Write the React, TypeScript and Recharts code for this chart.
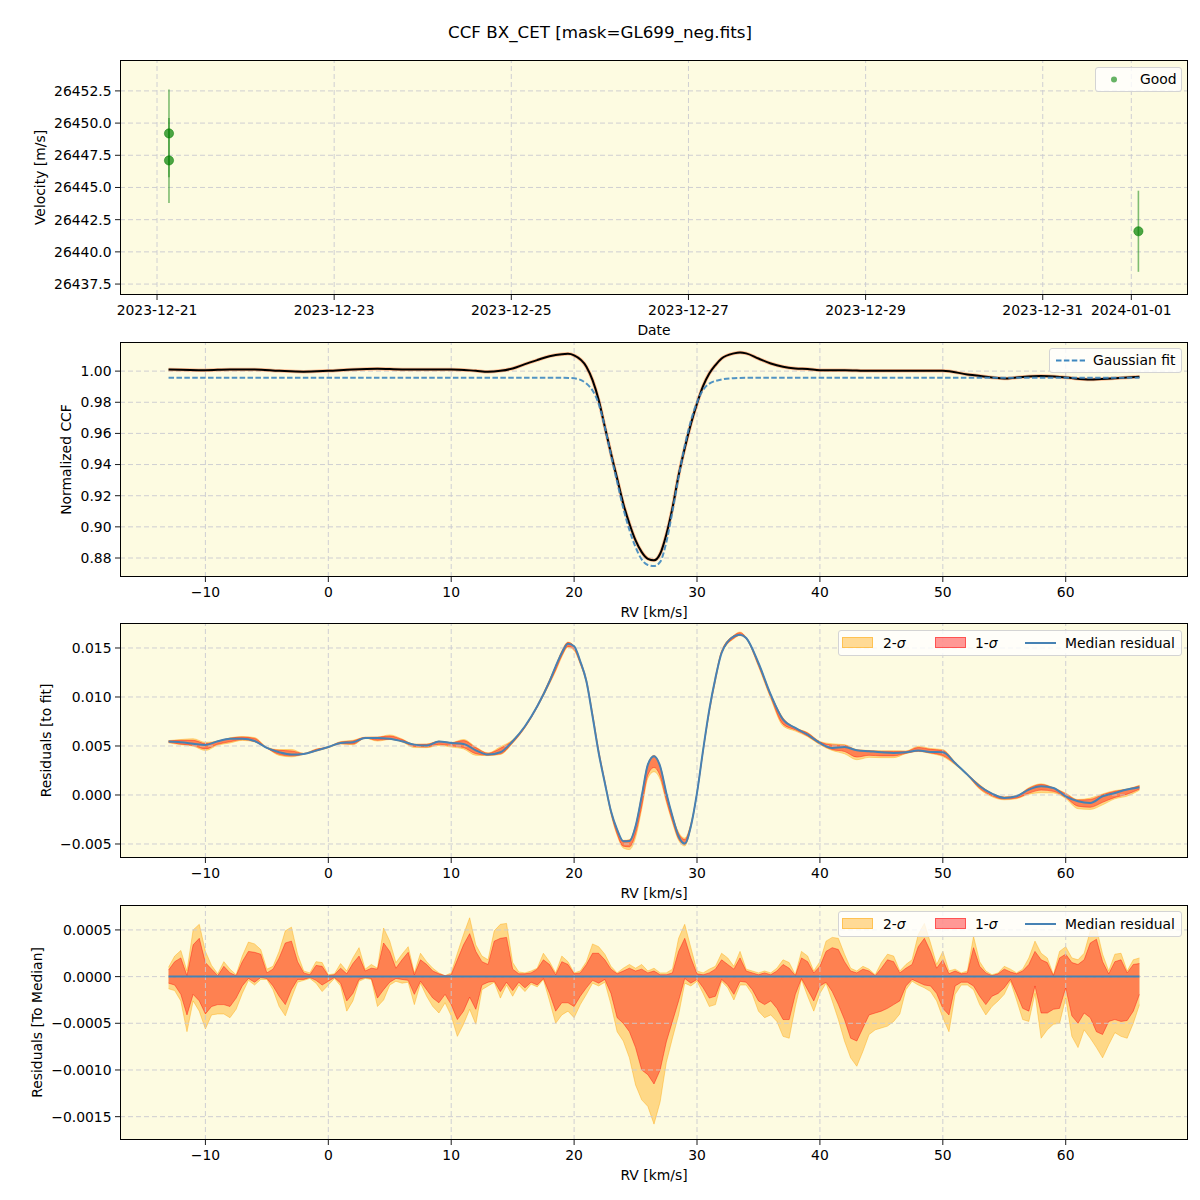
import React from 'react';
import {
  ComposedChart, Line, Area, Scatter, ErrorBar, XAxis, YAxis, CartesianGrid, ReferenceLine, Label,
} from 'recharts';

const FONT = '"DejaVu Sans", Verdana, sans-serif';
const FACE = '#fdfbe1';
const GRID = '#c9c9d0';
const MEDIAN_BLUE = '#4682b4';

// layout of the four axes boxes (px)
const PANEL_TOPS = [60, 342, 623, 905];
const MARGIN = { top: 10, right: 12, bottom: 0, left: 0 };

// ---- panel 1 : velocities, x = days after 2023-12-21 00:00
const obsDay = [0.135, 0.135, 11.08];
const obsVel = [26449.2, 26447.1, 26441.6];
const obsErr = [3.4, 3.3, 3.15];
const dateTicks = [0, 2, 4, 6, 8, 10, 11];
const dateLabels = ['2023-12-21', '2023-12-23', '2023-12-25', '2023-12-27', '2023-12-29', '2023-12-31', '2024-01-01'];
const velTicks = [26437.5, 26440, 26442.5, 26445, 26447.5, 26450, 26452.5];

// ---- panel 2 : CCF and gaussian fit
const ccfRv = [-13, -10, -8, -6, -4, -2, 0, 2, 4, 6, 8, 10, 12, 13, 14, 15, 16, 17, 18, 19,
  19.5, 20, 21, 21.5, 22, 22.5, 23, 23.5, 24, 24.5, 25, 25.5, 26, 26.5, 27, 27.5, 28, 28.5, 29, 29.5,
  30, 30.5, 31, 31.5, 32, 33, 33.5, 34, 35, 36, 37, 38, 39, 40, 42, 44, 46, 48, 50, 52,
  54, 55, 56, 58, 60, 62, 64, 66];
const ccfVal = [1.0011, 1.0006, 1.0011, 1.0011, 1.0002, 0.9996, 1.0002, 1.0011, 1.0015, 1.0011,
  1.0011, 1.0011, 1.0002, 0.9996, 1.0002, 1.0017, 1.0045, 1.0071, 1.0096, 1.0109,
  1.0111, 1.0101, 1.0028, 0.9942, 0.9814, 0.9642, 0.9471, 0.931, 0.9149, 0.902,
  0.8913, 0.8838, 0.8795, 0.8785, 0.8827, 0.895, 0.912, 0.933, 0.9505, 0.966,
  0.9792, 0.9905, 0.9985, 1.0039, 1.0081, 1.0114, 1.012, 1.0114, 1.0081, 1.0049,
  1.0028, 1.0017, 1.0013, 1.0006, 1.0006, 1.0002, 1.0002, 1.0002, 1.0002, 0.9979,
  0.9959, 0.9953, 0.9959, 0.9968, 0.9959, 0.9946, 0.9955, 0.9964];
const fitRv = [-13, 19, 20, 21, 21.5, 22, 22.5, 23, 23.5, 24, 24.5, 25, 25.5, 26, 26.5, 27, 27.5,
  28, 28.5, 29, 29.5, 30, 30.5, 31, 32, 33, 34, 66];
const fitVal = [0.9957, 0.9957, 0.9954, 0.992, 0.9875, 0.979, 0.964, 0.946, 0.929, 0.912, 0.898,
  0.887, 0.879, 0.8755, 0.8748, 0.8775, 0.89, 0.91, 0.932, 0.952, 0.968, 0.98, 0.988, 0.992,
  0.9946, 0.9955, 0.9957, 0.9957];
const ccfTicks = [0.88, 0.9, 0.92, 0.94, 0.96, 0.98, 1.0];

// ---- panel 3 : residuals to fit, values in units of 1e-4
const p3Rv = [-13, -12, -11, -10, -9, -8, -7, -6, -5, -4, -3, -2, -1, 0, 1, 2, 3, 4, 5, 6,
  7, 8, 9, 10, 11, 12, 13, 14, 15, 16, 17, 18,
  18.5, 19, 19.5, 20, 20.5, 21, 21.5, 22, 22.5, 23, 23.5, 24, 24.5, 25, 25.5, 26, 26.5, 27,
  27.5, 28, 28.5, 29, 29.5, 30, 30.5, 31, 31.5,
  32, 33, 33.5, 34,
  35, 36, 37, 38, 39, 40, 41, 42, 43, 44, 45, 46, 47, 48, 49, 50,
  51, 52, 53, 54, 55, 56, 57, 58, 59, 60, 61, 62, 63, 64, 65, 66];
const p3Med = [54.5, 53.8, 52.4, 51.0, 54.8, 57.5, 57.5, 55.1, 48.0, 43.6, 41.2, 41.9, 45.3, 49.0, 53.1, 53.8, 58.2, 58.2, 57.5, 54.8,
  51.4, 50.4, 54.5, 53.1, 52.1, 45.6, 41.2, 43.6, 54.8, 70.1, 90.5, 116.0,
  131.3, 144.9, 154.4, 151.7, 136.4, 116.0, 80.3, 42.9, 12.3, -16.6, -35.3, -47.2, -47.0, -31.9, -1.3, 31.0, 39.5, 29.3,
  2.1, -21.7, -42.1, -49.6, -31.9, 2.1, 46.3, 87.1, 119.4,
  144.9, 161.9, 163.6, 160.2,
  134.7, 102.4, 76.9, 68.4, 61.6, 53.1, 48.0, 49.0, 45.6, 44.6, 43.6, 42.9, 43.6, 45.3, 43.9, 43.6,
  32.7, 20.8, 8.9, 1.4, -3.0, -1.3, 5.5, 8.9, 7.2, -1.3, -6.4, -8.1, -1.3, 2.1, 5.5, 7.9];
const p3Hi2 = [55.5, 56.6, 57.4, 53.7, 55.1, 58.3, 59.7, 58.6, 48.8, 46.3, 46.5, 42.5, 46.9, 49.2, 54.5, 55.8, 59.0, 59.1, 61.3, 57.2,
  51.8, 52.0, 54.9, 53.5, 56.6, 49.0, 43.0, 49.2, 56.3, 70.5, 91.4, 117.6,
  131.7, 147.1, 156.0, 152.1, 137.0, 117.6, 83.8, 46.1, 14.7, -15.5, -34.9, -46.3, -45.7, -31.0, 0.0, 31.6, 40.4, 29.7,
  2.5, -20.9, -38.0, -44.0, -28.8, 2.7, 46.7, 87.9, 120.5,
  147.4, 163.0, 166.3, 161.0,
  135.1, 102.8, 78.7, 68.6, 63.8, 54.7, 52.2, 51.4, 46.2, 45.4, 45.1, 45.1, 44.9, 49.8, 47.5, 46.3,
  33.5, 21.4, 10.5, 1.6, -1.9, -0.9, 7.5, 11.4, 7.4, 1.9, -4.6, -3.2, 1.1, 4.5, 6.1, 9.9];
const p3Hi1 = [55.2, 55.8, 55.8, 52.5, 54.9, 57.9, 59.1, 57.7, 48.4, 45.6, 45.0, 42.3, 46.5, 49.1, 54.0, 55.2, 58.8, 59.0, 60.2, 56.6,
  51.6, 51.7, 54.8, 53.3, 55.5, 48.3, 42.5, 47.7, 55.6, 70.4, 91.3, 117.3,
  131.5, 146.5, 155.7, 152.0, 136.8, 117.3, 82.8, 45.4, 14.1, -15.8, -35.0, -46.6, -46.1, -31.3, -0.5, 31.4, 40.1, 29.5,
  2.3, -21.3, -39.4, -45.5, -29.9, 2.4, 46.5, 87.5, 120.2,
  146.7, 162.7, 165.6, 160.8,
  134.9, 102.6, 78.2, 68.5, 63.2, 54.2, 51.1, 50.6, 46.0, 45.2, 44.5, 44.5, 44.5, 48.5, 46.6, 45.4,
  33.3, 21.2, 10.0, 1.5, -2.2, -1.0, 6.8, 10.7, 7.3, 1.1, -5.1, -4.5, 0.3, 3.7, 5.9, 9.3];
const p3Lo1 = [53.8, 51.9, 50.5, 47.0, 51.8, 54.3, 56.5, 54.5, 47.8, 41.5, 39.8, 41.6, 44.9, 48.5, 52.4, 52.0, 58.1, 55.9, 56.9, 54.5,
  49.5, 49.0, 51.7, 50.1, 48.4, 42.1, 40.6, 42.0, 53.3, 68.9, 89.6, 114.2,
  127.6, 142.1, 151.6, 148.5, 134.3, 114.8, 79.9, 42.2, 12.0, -18.4, -39.7, -52.2, -52.9, -39.5, -11.3, 20.5, 28.0, 19.3,
  -4.9, -26.5, -44.7, -50.5, -32.6, 1.8, 45.1, 84.8, 117.3,
  144.6, 160.0, 163.1, 159.6,
  132.1, 99.8, 72.3, 66.5, 60.2, 52.1, 46.4, 44.4, 38.7, 40.5, 39.9, 39.9, 42.6, 44.7, 42.9, 40.2,
  31.7, 20.2, 6.8, -0.7, -4.2, -3.1, 1.8, 5.0, 3.7, -2.5, -11.4, -12.5, -7.5, -2.5, 0.8, 6.0];
const p3Lo2 = [53.2, 51.2, 49.8, 45.4, 50.8, 53.1, 55.7, 54.2, 47.7, 40.4, 38.9, 41.5, 44.6, 48.1, 52.1, 51.2, 58.0, 55.0, 56.6, 54.1,
  48.4, 48.3, 50.6, 48.9, 47.0, 40.5, 40.2, 41.3, 52.7, 68.5, 89.4, 113.4,
  126.3, 140.8, 150.7, 147.3, 133.4, 114.1, 79.6, 41.9, 11.7, -19.6, -41.2, -54.1, -55.7, -43.5, -14.5, 17.1, 23.7, 15.9,
  -7.1, -28.3, -46.2, -52.0, -32.9, 1.6, 44.5, 83.9, 116.4,
  144.4, 159.4, 162.7, 159.3,
  131.0, 98.3, 70.5, 65.2, 59.5, 51.3, 45.4, 42.1, 36.0, 38.4, 38.1, 38.1, 42.2, 44.4, 42.3, 39.2,
  30.8, 19.9, 5.9, -1.8, -4.9, -3.8, 0.7, 2.3, 2.1, -3.6, -14.0, -14.7, -10.0, -3.9, -1.1, 4.9];
const res3Ticks = [-0.005, 0, 0.005, 0.01, 0.015];

// ---- panel 4 : residuals to median, values in units of 1e-5, one value per 0.5 km/s from -13
const p4Hi2 = [
  10, 22, 28, 6, 50, 56, 27, 12, 3, 16,
  8, 2, 22, 37, 35, 29, 8, 11, 27, 49,
  53, 24, 6, 4, 16, 15, 2, 3, 14, 6,
  20, 31, 8, 13, 9, 52, 38, 15, 24, 32,
  4, 25, 16, 9, 4, 1, 4, 25, 45, 63,
  34, 22, 18, 49, 56, 57, 15, 5, 4, 6,
  9, 25, 16, 4, 22, 16, 4, 6, 16, 35,
  32, 24, 11, 4, 9, 13, 9, 13, 6, 9,
  4, 4, 8, 41, 56, 31, 6, 4, 8, 11,
  25, 20, 11, 27, 8, 6, 4, 6, 4, 9,
  18, 15, 2, 27, 22, 6, 16, 38, 42, 41,
  24, 9, 6, 11, 8, 2, 15, 24, 22, 6,
  13, 18, 45, 57, 36, 13, 27, 6, 8, 4,
  6, 43, 16, 6, 2, 4, 11, 8, 4, 8,
  20, 38, 25, 20, 2, 27, 32, 20, 18, 25,
  49, 52, 24, 6, 24, 25, 6, 18, 20];
const p4Hi1 = [
  7, 16, 20, 1, 34, 41, 15, 8, 1, 11,
  4, 1, 16, 27, 26, 24, 4, 8, 20, 36,
  38, 16, 4, 2, 12, 11, 1, 2, 9, 3,
  14, 22, 6, 9, 8, 36, 27, 9, 18, 26,
  2, 18, 13, 6, 3, 1, 2, 18, 34, 46,
  27, 16, 13, 38, 41, 42, 8, 3, 3, 4,
  8, 18, 13, 2, 16, 13, 3, 4, 13, 25,
  25, 18, 8, 3, 6, 9, 6, 8, 4, 6,
  2, 2, 4, 27, 41, 20, 3, 2, 4, 8,
  18, 13, 8, 20, 6, 4, 2, 4, 2, 6,
  13, 9, 1, 20, 16, 4, 11, 27, 31, 29,
  16, 6, 4, 8, 6, 1, 9, 18, 16, 4,
  9, 13, 32, 41, 27, 9, 18, 3, 6, 3,
  4, 31, 11, 4, 1, 3, 8, 5, 3, 6,
  13, 27, 18, 15, 1, 20, 24, 15, 13, 18,
  36, 40, 16, 3, 16, 18, 4, 13, 14];
const p4Lo1 = [
  -7, -9, -19, -41, -19, -26, -40, -32, -30, -30,
  -32, -23, -10, -2, -6, -1, -2, -10, -21, -30,
  -14, -3, -3, -1, -4, -9, -5, -1, -7, -26,
  -18, -3, -1, -2, -23, -14, -6, -2, -3, -4,
  -19, -5, -14, -23, -28, -19, -30, -46, -37, -22,
  -35, -9, -6, -5, -16, -6, -15, -6, -12, -6,
  -9, -2, -18, -37, -28, -28, -32, -21, -12, -4,
  -7, -3, -18, -44, -50, -59, -76, -100, -105, -115,
  -100, -70, -48, -26, -2, -7, -3, -12, -23, -21,
  -3, -9, -19, -5, -6, -14, -26, -30, -26, -34,
  -46, -46, -19, -2, -14, -26, -10, -6, -16, -30,
  -46, -66, -69, -55, -41, -39, -37, -34, -30, -26,
  -10, -3, -6, -9, -10, -18, -34, -41, -10, -6,
  -6, -10, -21, -30, -21, -18, -12, -3, -18, -34,
  -37, -10, -39, -39, -35, -34, -12, -42, -50, -39,
  -44, -59, -62, -48, -46, -48, -47, -37, -19];
const p4Lo2 = [
  -13, -15, -26, -59, -26, -37, -56, -41, -40, -40,
  -44, -35, -18, -4, -9, -3, -3, -14, -32, -42,
  -23, -6, -4, -2, -7, -16, -9, -2, -10, -37,
  -26, -5, -2, -3, -32, -25, -9, -5, -7, -6,
  -30, -7, -21, -32, -39, -28, -42, -64, -51, -35,
  -51, -14, -10, -6, -23, -9, -21, -9, -16, -8,
  -11, -3, -26, -50, -41, -37, -44, -30, -19, -7,
  -10, -6, -30, -59, -69, -87, -116, -132, -139, -158,
  -134, -92, -66, -41, -7, -10, -5, -18, -32, -30,
  -5, -12, -25, -9, -9, -19, -37, -44, -41, -48,
  -64, -66, -32, -3, -21, -37, -18, -7, -26, -46,
  -69, -87, -96, -80, -62, -57, -55, -53, -48, -40,
  -14, -5, -9, -12, -16, -26, -44, -59, -19, -9,
  -9, -14, -30, -41, -32, -26, -19, -5, -25, -46,
  -48, -18, -66, -57, -51, -50, -23, -64, -76, -57,
  -66, -76, -87, -73, -60, -64, -66, -50, -30];
const med4Rv = [-13, 66];
const med4Val = [0, 0];
const res4Ticks = [-0.0015, -0.001, -0.0005, 0, 0.0005];

const rvTicks = [-10, 0, 10, 20, 30, 40, 50, 60];
const RV_DOMAIN: [number, number] = [-16.95, 69.95];

// ---- tables for the library
const velRows = obsDay.map((t, i) => ({ t, v: obsVel[i], err: obsErr[i] }));
const ccfRows = ccfRv.map((rv, i) => ({ rv, v: ccfVal[i] }));
const fitRows = fitRv.map((rv, i) => ({ rv, v: fitVal[i] }));
const res3Rows = p3Rv.map((rv, i) => ({
  rv,
  med: p3Med[i] * 1e-4,
  s2: [p3Lo2[i] * 1e-4, p3Hi2[i] * 1e-4],
  s1: [p3Lo1[i] * 1e-4, p3Hi1[i] * 1e-4],
}));
const p4Rv = p4Hi2.map((_, i) => -13 + 0.5 * i);
const res4Rows = p4Rv.map((rv, i) => ({
  rv,
  s2: [p4Lo2[i] * 1e-5, p4Hi2[i] * 1e-5],
  s1: [p4Lo1[i] * 1e-5, p4Hi1[i] * 1e-5],
}));
const med4Rows = med4Rv.map((rv, i) => ({ rv, v: med4Val[i] }));

const minus = (digits: number) => (v: number) =>
  (v < 0 ? '\u2212' : '') + Math.abs(v).toFixed(digits);

const tickStyle = { fill: '#000', fontSize: 13.9, fontFamily: FONT };
const tickLine = { stroke: '#000', strokeWidth: 0.9 };
const labelStyle = { fill: '#000', fontSize: 13.9, fontFamily: FONT };
const yLabelStyle = { ...labelStyle, textAnchor: 'middle' as const };
const gridProps = { stroke: GRID, strokeDasharray: '5 3', strokeWidth: 0.9 };

const legendBox: React.CSSProperties = {
  position: 'absolute',
  background: 'rgba(255,255,255,0.8)',
  border: '1px solid #d4d4d4',
  borderRadius: 3,
  boxSizing: 'border-box',
  fontFamily: FONT,
  fontSize: 13.9,
  color: '#000',
};
const legendText = (left: number, h: number): React.CSSProperties => ({
  position: 'absolute', left, top: 0, lineHeight: `${h}px`, whiteSpace: 'nowrap',
});

const Frame = ({ top }: { top: number }) => (
  <div style={{
    position: 'absolute', left: 120, top, width: 1068, height: 235,
    border: '1px solid #000', boxSizing: 'border-box', pointerEvents: 'none',
  }} />
);

const BandLegend = ({ top }: { top: number }) => (
  <div style={{ ...legendBox, left: 838, top, width: 344, height: 26 }}>
    <div style={{ position: 'absolute', left: 3, top: 6, width: 31, height: 11, boxSizing: 'border-box',
      background: 'rgba(255,165,0,0.4)', border: '1px solid rgba(255,165,0,0.45)' }} />
    <span style={legendText(44, 24)}>2-<i>σ</i></span>
    <div style={{ position: 'absolute', left: 96, top: 6, width: 31, height: 11, boxSizing: 'border-box',
      background: 'rgba(255,0,0,0.4)', border: '1px solid rgba(255,0,0,0.45)' }} />
    <span style={legendText(136, 24)}>1-<i>σ</i></span>
    <svg style={{ position: 'absolute', left: 186, top: 0 }} width={31} height={24}>
      <line x1={0} x2={31} y1={12} y2={12} stroke={MEDIAN_BLUE} strokeWidth={2} />
    </svg>
    <span style={legendText(226, 24)}>Median residual</span>
  </div>
);

const rvAxis = (
  <XAxis dataKey="rv" type="number" domain={RV_DOMAIN} ticks={rvTicks} interval={0}
    tickFormatter={minus(0)} allowDataOverflow axisLine={false} tickLine={tickLine}
    tickSize={5} tickMargin={5} tick={tickStyle} height={50}>
    <Label value="RV [km/s]" position="insideBottom" offset={10} style={labelStyle} />
  </XAxis>
);

export default function App() {
  return (
    <div style={{ position: 'absolute', left: 0, top: 0, width: 1200, height: 1200, background: '#fff',
      fontFamily: FONT, overflow: 'hidden' }}>
      <div style={{ position: 'absolute', top: 21, left: 0, width: 1200, textAlign: 'center',
        fontSize: 16.7, lineHeight: '22px', color: '#000' }}>
        CCF BX_CET [mask=GL699_neg.fits]
      </div>

      {/* panel 1: velocity vs date */}
      <div style={{ position: 'absolute', left: 0, top: PANEL_TOPS[0] - 10 }}>
        <ComposedChart width={1200} height={295} margin={MARGIN}>
          <CartesianGrid horizontal={false} vertical={false} fill={FACE} fillOpacity={1} />
          {dateTicks.map((t) => <ReferenceLine key={`dx${t}`} x={t} {...gridProps} />)}
          {velTicks.map((v) => <ReferenceLine key={`dy${v}`} y={v} {...gridProps} />)}
          <XAxis dataKey="t" type="number" domain={[-0.418, 11.64]} ticks={dateTicks} interval={0}
            tickFormatter={(t: number) => dateLabels[dateTicks.indexOf(t)]} allowDataOverflow
            axisLine={false} tickLine={tickLine} tickSize={5} tickMargin={5} tick={tickStyle} height={50}>
            <Label value="Date" position="insideBottom" offset={10} style={labelStyle} />
          </XAxis>
          <YAxis dataKey="v" type="number" domain={[26436.65, 26454.9]} ticks={velTicks} interval={0}
            tickFormatter={(v: number) => v.toFixed(1)} allowDataOverflow width={120}
            axisLine={false} tickLine={tickLine} tickSize={5} tickMargin={3.5} tick={tickStyle}>
            <Label value="Velocity [m/s]" angle={-90} position="insideLeft" offset={40} style={yLabelStyle} />
          </YAxis>
          <Scatter data={velRows} dataKey="v" isAnimationActive={false}
            shape={(p: any) => (
              <circle cx={p.cx} cy={p.cy} r={4.6} fill="#008000" fillOpacity={0.7}
                stroke="#008000" strokeOpacity={0.5} strokeWidth={1} />
            )}>
            <ErrorBar dataKey="err" direction="y" width={0} stroke="rgba(0,128,0,0.5)" strokeWidth={1.6} />
          </Scatter>
        </ComposedChart>
      </div>

      {/* panel 2: CCF */}
      <div style={{ position: 'absolute', left: 0, top: PANEL_TOPS[1] - 10 }}>
        <ComposedChart width={1200} height={295} margin={MARGIN}>
          <CartesianGrid horizontal={false} vertical={false} fill={FACE} fillOpacity={1} />
          {rvTicks.map((t) => <ReferenceLine key={`cx${t}`} x={t} {...gridProps} />)}
          {ccfTicks.map((v) => <ReferenceLine key={`cy${v}`} y={v} {...gridProps} />)}
          {rvAxis}
          <YAxis type="number" domain={[0.8678, 1.0187]} ticks={ccfTicks} interval={0}
            tickFormatter={(v: number) => v.toFixed(2)} allowDataOverflow width={120}
            axisLine={false} tickLine={tickLine} tickSize={5} tickMargin={3.5} tick={tickStyle}>
            <Label value="Normalized CCF" angle={-90} position="insideLeft" offset={66} style={yLabelStyle} />
          </YAxis>
          <Line data={ccfRows} dataKey="v" type="monotone" stroke="#ff7f3f" strokeWidth={3.5}
            strokeOpacity={0.5} dot={false} activeDot={false} isAnimationActive={false} />
          <Line data={ccfRows} dataKey="v" type="monotone" stroke="#000" strokeWidth={2}
            dot={false} activeDot={false} isAnimationActive={false} />
          <Line data={fitRows} dataKey="v" type="monotone" stroke="#3f88c0" strokeOpacity={0.9}
            strokeWidth={2} strokeDasharray="5.5 2.4" dot={false} activeDot={false} isAnimationActive={false} />
        </ComposedChart>
      </div>

      {/* panel 3: residuals to fit */}
      <div style={{ position: 'absolute', left: 0, top: PANEL_TOPS[2] - 10 }}>
        <ComposedChart width={1200} height={295} margin={MARGIN} data={res3Rows}>
          <CartesianGrid horizontal={false} vertical={false} fill={FACE} fillOpacity={1} />
          {rvAxis}
          <YAxis type="number" domain={[-0.00643, 0.01755]} ticks={res3Ticks} interval={0}
            tickFormatter={minus(3)} allowDataOverflow width={120}
            axisLine={false} tickLine={tickLine} tickSize={5} tickMargin={3.5} tick={tickStyle}>
            <Label value="Residuals [to fit]" angle={-90} position="insideLeft" offset={46} style={yLabelStyle} />
          </YAxis>
          <Area dataKey="s2" type="monotone" fill="orange" fillOpacity={0.4} stroke="orange"
            strokeOpacity={0.4} strokeWidth={1} dot={false} activeDot={false} isAnimationActive={false} />
          <Area dataKey="s1" type="monotone" fill="red" fillOpacity={0.4} stroke="red"
            strokeOpacity={0.4} strokeWidth={1} dot={false} activeDot={false} isAnimationActive={false} />
          {rvTicks.map((t) => <ReferenceLine key={`rx${t}`} x={t} {...gridProps} />)}
          {res3Ticks.map((v) => <ReferenceLine key={`ry${v}`} y={v} {...gridProps} />)}
          <Line dataKey="med" type="monotone" stroke={MEDIAN_BLUE} strokeWidth={2}
            dot={false} activeDot={false} isAnimationActive={false} />
        </ComposedChart>
      </div>

      {/* panel 4: residuals to median */}
      <div style={{ position: 'absolute', left: 0, top: PANEL_TOPS[3] - 10 }}>
        <ComposedChart width={1200} height={295} margin={MARGIN} data={res4Rows}>
          <CartesianGrid horizontal={false} vertical={false} fill={FACE} fillOpacity={1} />
          {rvAxis}
          <YAxis type="number" domain={[-0.00175, 0.000767]} ticks={res4Ticks} interval={0}
            tickFormatter={minus(4)} allowDataOverflow width={120}
            axisLine={false} tickLine={tickLine} tickSize={5} tickMargin={3.5} tick={tickStyle}>
            <Label value="Residuals [To Median]" angle={-90} position="insideLeft" offset={37} style={yLabelStyle} />
          </YAxis>
          <Area dataKey="s2" type="linear" fill="orange" fillOpacity={0.4} stroke="orange"
            strokeOpacity={0.4} strokeWidth={1} dot={false} activeDot={false} isAnimationActive={false} />
          <Area dataKey="s1" type="linear" fill="red" fillOpacity={0.4} stroke="red"
            strokeOpacity={0.4} strokeWidth={1} dot={false} activeDot={false} isAnimationActive={false} />
          {rvTicks.map((t) => <ReferenceLine key={`mx${t}`} x={t} {...gridProps} />)}
          {res4Ticks.map((v) => <ReferenceLine key={`my${v}`} y={v} {...gridProps} />)}
          <Line data={med4Rows} dataKey="v" type="linear" stroke={MEDIAN_BLUE} strokeWidth={2}
            dot={false} activeDot={false} isAnimationActive={false} />
        </ComposedChart>
      </div>

      {PANEL_TOPS.map((t) => <Frame key={t} top={t} />)}

      {/* legends */}
      <div style={{ ...legendBox, left: 1095, top: 67, width: 87, height: 25 }}>
        <svg style={{ position: 'absolute', left: 0, top: 0 }} width={40} height={23}>
          <circle cx={18} cy={11.5} r={3} fill="#008000" fillOpacity={0.6} />
        </svg>
        <span style={legendText(44, 23)}>Good</span>
      </div>
      <div style={{ ...legendBox, left: 1049, top: 348, width: 133, height: 25 }}>
        <svg style={{ position: 'absolute', left: 6, top: 0 }} width={30} height={23}>
          <line x1={0} x2={29} y1={11.5} y2={11.5} stroke="#3f88c0" strokeWidth={2} strokeDasharray="5.5 2.4" />
        </svg>
        <span style={legendText(43, 23)}>Gaussian fit</span>
      </div>
      <BandLegend top={630} />
      <BandLegend top={911} />
    </div>
  );
}
